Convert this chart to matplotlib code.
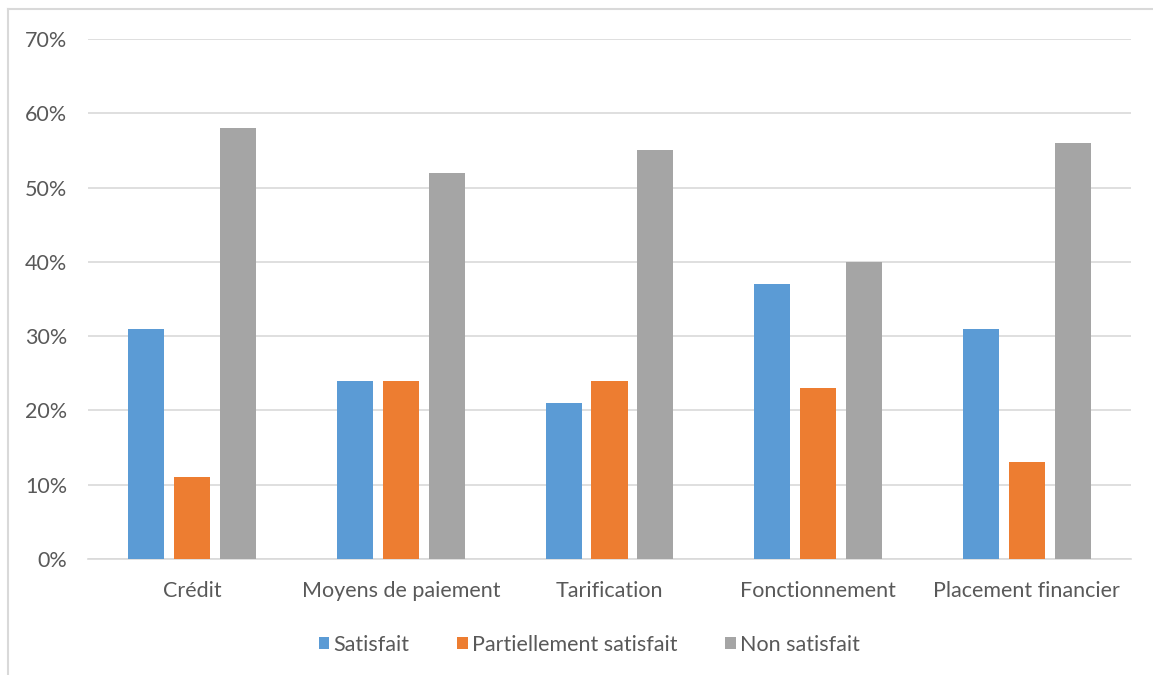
import numpy as np
import matplotlib.pyplot as plt
from matplotlib.lines import Line2D

plt.rcParams['font.family'] = ['Lato', 'DejaVu Sans']

categories = ['Crédit', 'Moyens de paiement', 'Tarification', 'Fonctionnement', 'Placement financier']
series_names = ['Satisfait', 'Partiellement satisfait', 'Non satisfait']
satisfait = [31, 24, 21, 37, 31]
partiel = [11, 24, 24, 23, 13]
non_satisfait = [58, 52, 55, 40, 56]
colors = ['#5B9BD5', '#ED7D31', '#A5A5A5']
text_color = '#595959'

fig = plt.figure(figsize=(11.53, 6.75), dpi=100)
ax = fig.add_axes([0.0763, 0.1719, 0.9047, 0.7703])

x = np.arange(len(categories))
width = 0.173
offset = 0.22
for i, (vals, name) in enumerate(zip([satisfait, partiel, non_satisfait], series_names)):
    ax.bar(x + (i - 1) * offset, vals, width, color=colors[i], label=name, zorder=3)

ax.set_xlim(-0.5, len(categories) - 0.5)
ax.set_ylim(0, 70)
ax.set_yticks(np.arange(0, 71, 10))
ax.set_yticklabels([f'{v}%' for v in range(0, 71, 10)])
ax.set_xticks(x)
ax.set_xticklabels(categories)
ax.yaxis.grid(True, color='#d9d9d9', linewidth=1.2, zorder=0)
ax.tick_params(axis='both', length=0, labelsize=15.5, labelcolor=text_color)
ax.tick_params(axis='x', pad=16)
ax.tick_params(axis='y', pad=15)
for side in ['top', 'right', 'left']:
    ax.spines[side].set_visible(False)
ax.spines['bottom'].set_color('#d9d9d9')
ax.spines['bottom'].set_linewidth(1.2)

leg = fig.legend(loc='center', bbox_to_anchor=(0.511, 0.045), ncol=3, frameon=False,
                 fontsize=15.5, handlelength=0.5, handleheight=0.5, handletextpad=0.2,
                 columnspacing=2.2)
for t in leg.get_texts():
    t.set_color(text_color)

# chart border (top and left edges)
fig.add_artist(Line2D([0.0069, 1.0], [0.9867, 0.9867], color='#d9d9d9', linewidth=1.5))
fig.add_artist(Line2D([0.0069, 0.0069], [0.0, 0.9867], color='#d9d9d9', linewidth=1.5))

fig.savefig('out.png', dpi=100)
